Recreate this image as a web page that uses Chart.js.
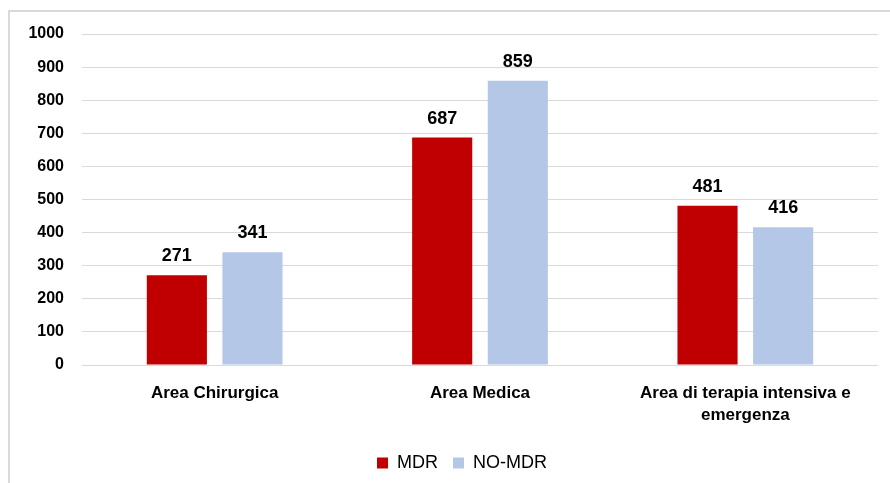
<!DOCTYPE html>
<html>
<head>
<meta charset="utf-8">
<script src="https://cdn.jsdelivr.net/npm/chart.js@4.4.1/dist/chart.umd.min.js"></script>
<style>
  html, body { margin: 0; padding: 0; background: #fff; overflow: hidden; }
  #frame {
    position: absolute; left: 8px; top: 10px; width: 920px; height: 520px;
    border-left: 2px solid #d9d9d9; border-top: 2px solid #d9d9d9;
  }
  #wrap { position: absolute; left: 0; top: 0; width: 890px; height: 483px; }
</style>
</head>
<body>
<div id="frame"></div>
<div id="wrap"><canvas id="barChart" width="890" height="483"></canvas></div>
<script>
const categories = ["Area Chirurgica", "Area Medica", ["Area di terapia intensiva e", "emergenza"]];
const mdrValues = [271, 687, 481];
const noMdrValues = [341, 859, 416];
const yTicks = [0, 100, 200, 300, 400, 500, 600, 700, 800, 900, 1000];

const FONT = "'Liberation Sans', Arial, sans-serif";

// draws the value above each bar
const valueLabels = {
  id: "valueLabels",
  afterDatasetsDraw(chart) {
    const ctx = chart.ctx;
    ctx.save();
    ctx.font = "bold 18px " + FONT;
    ctx.fillStyle = "#000";
    ctx.textAlign = "center";
    ctx.textBaseline = "bottom";
    chart.data.datasets.forEach((ds, i) => {
      chart.getDatasetMeta(i).data.forEach((bar, j) => {
        ctx.fillText(ds.data[j], bar.x, bar.y - 10);
      });
    });
    ctx.restore();
  },
};

// move the legend to where it sits in the original
const legendShift = {
  id: "legendShift",
  afterLayout(chart) {
    const lg = chart.legend;
    const dx = 462 - (lg.left + lg.right) / 2;
    lg.left += dx; lg.right += dx;
    const dy = 439 - lg.top;
    lg.top += dy; lg.bottom += dy;
  },
};

new Chart(document.getElementById("barChart").getContext("2d"), {
  type: "bar",
  data: {
    labels: categories,
    datasets: [
      {
        label: "MDR",
        data: mdrValues,
        backgroundColor: "#C00000",
        categoryPercentage: 0.57,
        barPercentage: 0.795,
      },
      {
        label: "NO-MDR",
        data: noMdrValues,
        backgroundColor: "#B4C7E7",
        categoryPercentage: 0.57,
        barPercentage: 0.795,
      },
    ],
  },
  options: {
    responsive: false,
    animation: false,
    layout: { padding: { left: 10, right: 12, top: 34, bottom: 0 } },
    scales: {
      x: {
        afterFit(scale) { scale.height = 75; },
        grid: { display: false },
        border: { display: false },
        ticks: {
          color: "#000",
          font: { family: FONT, size: 17, weight: "bold", lineHeight: 1.3 },
          padding: 9,
          maxRotation: 0,
          autoSkip: false,
        },
      },
      y: {
        min: 0,
        max: 1000,
        afterFit(scale) { scale.width = 72; },
        afterBuildTicks(scale) { scale.ticks = yTicks.map(v => ({ value: v })); },
        grid: { color: "#d9d9d9", lineWidth: 1, drawTicks: false },
        border: { display: false },
        ticks: {
          color: "#000",
          font: { family: FONT, size: 16, weight: "bold" },
          padding: 18,
          callback: (v) => String(v),
        },
      },
    },
    plugins: {
      legend: {
        position: "bottom",
        labels: {
          color: "#000",
          font: { family: FONT, size: 18 },
          boxWidth: 11,
          boxHeight: 11,
          padding: 15,
        },
      },
      tooltip: { enabled: false },
    },
  },
  plugins: [valueLabels, legendShift],
});
</script>
</body>
</html>
